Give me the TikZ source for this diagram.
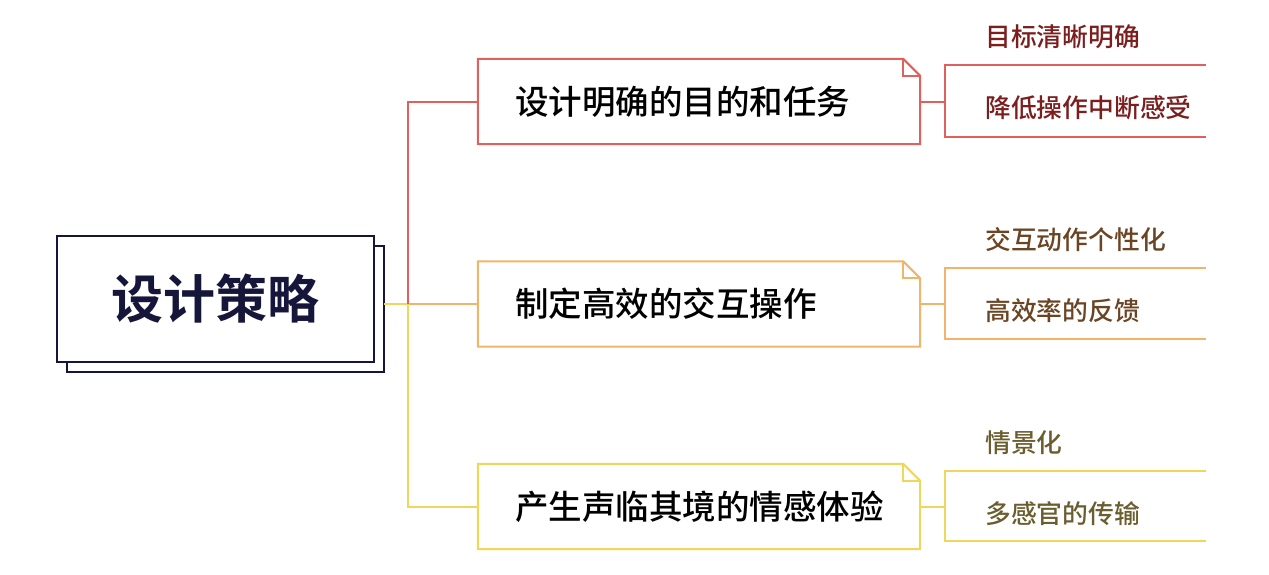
\documentclass[tikz,border=0pt]{standalone}
\usepackage{fontspec}
\newfontfamily\cjk{Noto Sans CJK SC}
\newfontfamily\cjkm{Noto Sans CJK SC Medium}
\newfontfamily\cjkb{Noto Sans CJK SC Bold}
\definecolor{navy}{HTML}{15163A}
\definecolor{cred}{HTML}{E0605E}
\definecolor{corange}{HTML}{F0B46A}
\definecolor{cyellow}{HTML}{EED75A}
\definecolor{tred}{HTML}{7B1E1E}
\definecolor{torange}{HTML}{6B4423}
\definecolor{tyellow}{HTML}{6B5E2E}
\tikzset{
  rootbox/.style={draw=navy, line width=2.2pt, fill=white, minimum width=317pt, minimum height=126pt, inner sep=0pt, font=\cjkb\fontsize{52}{58}\selectfont, text=navy},
  branchbox/.style={draw=none, minimum width=442pt, minimum height=85pt, inner xsep=37pt, inner ysep=0pt, text width=368pt, align=left, font=\cjkm\fontsize{33.5}{38}\selectfont, text=black},
  leaftext/.style={anchor=west, inner sep=0pt, font=\cjkm\fontsize{25.8}{30}\selectfont},
  wire/.style={line width=2pt},
}
\begin{document}
\begin{tikzpicture}[x=1pt,y=-1pt]
\useasboundingbox (0,0) rectangle (1269,574);
% root with shadow
\draw[navy, line width=2.2pt, fill=white] (67,246) rectangle (384,372);
\node[rootbox] (root) at (215.5,299) {设计策略};
% branch boxes
\node[branchbox] (b1) at (699,101.5) {设计明确的目的和任务};
\node[branchbox] (b2) at (699,304) {制定高效的交互操作};
\node[branchbox] (b3) at (699,506.5) {产生声临其境的情感体验};
\foreach \b/\c in {b1/cred, b2/corange, b3/cyellow}{
  \draw[wire, \c, line join=miter] (\b.north west) -- ([xshift=-17pt]\b.north east) -- ([yshift=-17pt]\b.north east) -- (\b.south east) -- (\b.south west) -- cycle;
  \draw[wire, \c, line join=miter] ([xshift=-17pt]\b.north east) -- ([xshift=-17pt,yshift=-17pt]\b.north east) -- ([yshift=-17pt]\b.north east);
}
% trunk
\coordinate (j) at (408,304);
\coordinate (rootout) at (384,304);
\draw[wire, cyellow] (rootout) -- (j);
\draw[wire, corange] (j) -- (b2.west);
\draw[wire, cyellow] (j) |- (b3.west);
\draw[wire, cred] (j) |- (b1.west);
% leaf brackets
\coordinate (k1) at (945,101.5);
\coordinate (k1t) at (945,65);  \coordinate (e1t) at (1206,65);
\coordinate (k1b) at (945,137); \coordinate (e1b) at (1206,137);
\coordinate (k2) at (945,304);
\coordinate (k2t) at (945,268); \coordinate (e2t) at (1206,268);
\coordinate (k2b) at (945,339); \coordinate (e2b) at (1206,339);
\coordinate (k3) at (945,506.5);
\coordinate (k3t) at (945,471); \coordinate (e3t) at (1206,471);
\coordinate (k3b) at (945,541); \coordinate (e3b) at (1206,541);
\draw[wire, cred] (b1.east) -- (k1);
\draw[wire, cred] (e1t) -- (k1t) -- (k1b) -- (e1b);
\draw[wire, corange] (b2.east) -- (k2);
\draw[wire, corange] (e2t) -- (k2t) -- (k2b) -- (e2b);
\draw[wire, cyellow] (b3.east) -- (k3);
\draw[wire, cyellow] (e3t) -- (k3t) -- (k3b) -- (e3b);
% leaf texts
\node[leaftext, text=tred] (l11) at (985,37) {目标清晰明确};
\node[leaftext, text=tred] (l12) at (985,108) {降低操作中断感受};
\node[leaftext, text=torange] (l21) at (985,240) {交互动作个性化};
\node[leaftext, text=torange] (l22) at (985,311) {高效率的反馈};
\node[leaftext, text=tyellow] (l31) at (985,443) {情景化};
\node[leaftext, text=tyellow] (l32) at (985,514) {多感官的传输};
\end{tikzpicture}
\end{document}
